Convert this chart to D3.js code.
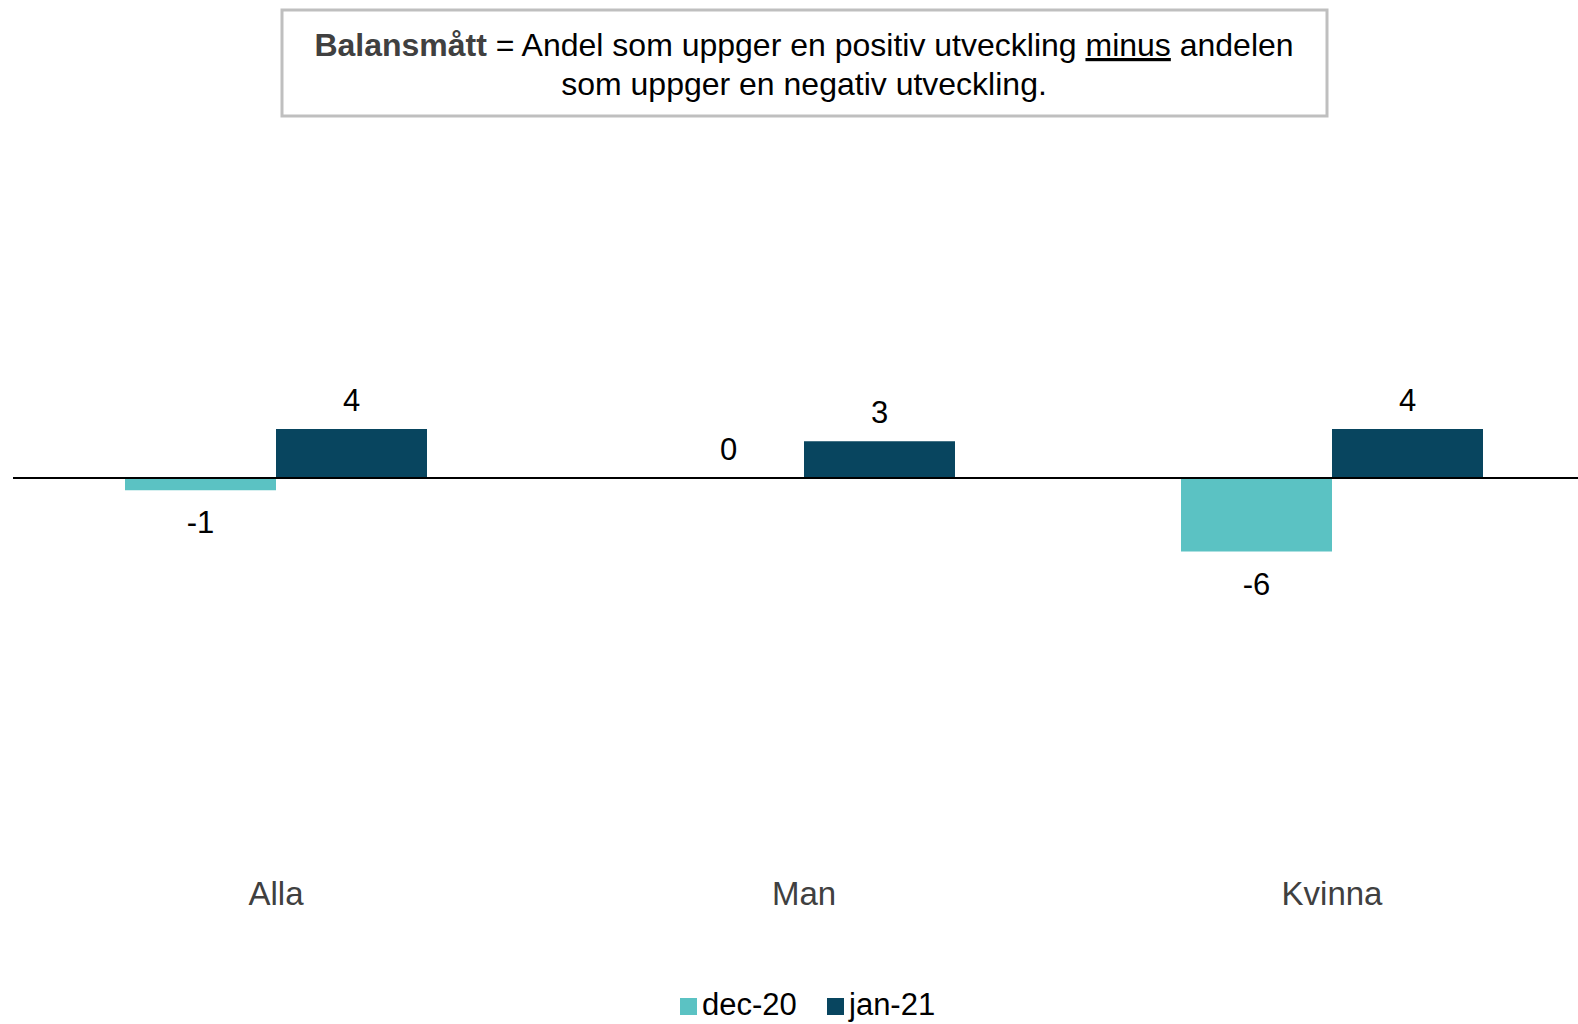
<!DOCTYPE html>
<html><head><meta charset="utf-8">
<script src="https://cdn.jsdelivr.net/npm/d3@7"></script>
<style>body{margin:0;background:#fff;font-family:"Liberation Sans",Arial,sans-serif}</style>
</head><body><svg id="c" width="1578" height="1024"></svg>
<script>
const categories = ["Alla", "Man", "Kvinna"];
const seriesNames = ["dec-20", "jan-21"];
const dec20 = [-1, 0, -6];
const jan21 = [4, 3, 4];
const colors = ["#5BC2C3", "#08455F"];

const svg = d3.select("#c");
const W = 1578;
const x0 = d3.scaleBand().domain(categories).range([12, 1596]).paddingInner(0).paddingOuter(0);
const groupW = 302;
const x1 = d3.scaleBand().domain(seriesNames).range([0, groupW]);
const y = d3.scaleLinear().domain([-20, 20]).range([723, 233]);

// title box
svg.append("rect").attr("x", 282).attr("y", 10).attr("width", 1045).attr("height", 106)
  .attr("fill", "#fff").attr("stroke", "#bfbfbf").attr("stroke-width", 3);
const t1 = svg.append("text").attr("x", 804).attr("y", 56).attr("text-anchor", "middle")
  .attr("font-size", 32).attr("fill", "#000");
t1.append("tspan").attr("font-weight", "bold").attr("fill", "#404040").text("Balansmått");
t1.append("tspan").text(" = Andel som uppger en positiv utveckling ");
t1.append("tspan").attr("text-decoration", "underline").text("minus");
t1.append("tspan").text(" andelen");
svg.append("text").attr("x", 804).attr("y", 95).attr("text-anchor", "middle")
  .attr("font-size", 32).attr("fill", "#000").text("som uppger en negativ utveckling.");

const data = categories.map((c, i) => ({c, vals: [dec20[i], jan21[i]]}));
const g = svg.append("g");
data.forEach(d => {
  const gx = x0(d.c) + (x0.bandwidth() - groupW) / 2;
  d.vals.forEach((v, j) => {
    const s = seriesNames[j];
    const bx = gx + x1(s);
    g.append("rect").attr("x", bx).attr("width", x1.bandwidth())
      .attr("y", y(Math.max(0, v))).attr("height", Math.abs(y(v) - y(0)))
      .attr("fill", colors[j]);
    const ly = v < 0 ? y(v) + 43 : y(v) - 18;
    g.append("text").attr("x", bx + x1.bandwidth() / 2).attr("y", ly)
      .attr("text-anchor", "middle").attr("font-size", 31).attr("fill", "#000").text(v);
  });
});

// zero line
svg.append("line").attr("x1", 13).attr("x2", W).attr("y1", y(0)).attr("y2", y(0))
  .attr("stroke", "#000").attr("stroke-width", 2);

// category labels
categories.forEach(c => {
  svg.append("text").attr("x", x0(c) + x0.bandwidth() / 2).attr("y", 905)
    .attr("text-anchor", "middle").attr("font-size", 33).attr("fill", "#404040").text(c);
});

// legend
const leg = [{x: 680, n: seriesNames[0], c: colors[0]}, {x: 827, n: seriesNames[1], c: colors[1]}];
leg.forEach(l => {
  svg.append("rect").attr("x", l.x).attr("y", 998).attr("width", 17).attr("height", 17).attr("fill", l.c);
  svg.append("text").attr("x", l.x + 22).attr("y", 1015).attr("font-size", 31).attr("fill", "#000").text(l.n);
});
</script></body></html>
